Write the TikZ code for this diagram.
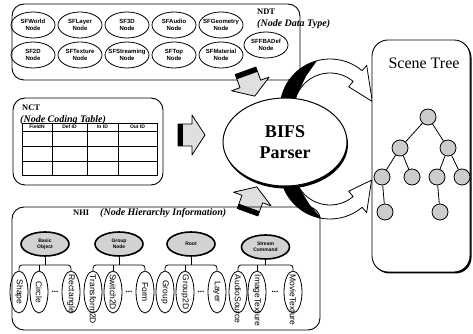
\documentclass[tikz,border=0pt]{standalone}
\usepackage{fontspec}
\setmainfont{Liberation Serif}
\setsansfont{Liberation Sans}
\usetikzlibrary{shapes,shapes.geometric,arrows,calc,positioning,shadows}

\begin{document}
\begin{tikzpicture}[%
x=1pt, y=1pt,
node distance=47pt,
on grid,
panel/.style={draw, line width=0.9pt, rounded corners=12pt, inner sep=0pt},
title/.style={font=\bfseries\fontsize{8.5}{10}\selectfont, inner sep=0pt, anchor=west},
subtitle/.style={font=\bfseries\itshape\fontsize{10}{12}\selectfont, inner sep=0pt, anchor=west},
sftext/.style={font=\sffamily\bfseries\fontsize{6}{6.6}\selectfont, align=center, inner sep=0pt},
sfnode/.style={ellipse, draw, line width=0.8pt, minimum width=44pt, minimum height=26pt, inner sep=0pt, label={[sftext]center:#1}},
cell/.style={font=\sffamily\bfseries\fontsize{5}{6}\selectfont, inner sep=0pt},
blockarrow/.style={draw, line width=0.8pt, fill=gray!25, line join=round},
parser/.style={ellipse, draw, line width=1pt, fill=white, minimum width=124pt, minimum height=88pt, align=center, font=\bfseries\fontsize{18}{21}\selectfont, drop shadow={fill=black, opacity=1, shadow xshift=1pt, shadow yshift=-2.5pt}},
ribbon/.style={draw, line width=0.8pt, fill=white, line join=round},
treenode/.style={circle, draw, line width=0.8pt, fill=gray!40, minimum size=16pt, inner sep=0pt},
groupnode/.style={ellipse, draw, line width=1.6pt, fill=gray!35, minimum width=48pt, minimum height=24pt, inner sep=0pt, align=center, font=\sffamily\bfseries\fontsize{5}{5.5}\selectfont},
leaftext/.style={rotate=-90, font=\sffamily\fontsize{8.5}{10}\selectfont, inner sep=0pt},
leaf/.style={ellipse, draw, line width=0.8pt, minimum width=18pt, minimum height=42pt, inner sep=0pt},
dotstext/.style={font=\bfseries\fontsize{9}{10}\selectfont, inner sep=0pt},
link/.style={line width=0.8pt, rounded corners=3pt}
]
\useasboundingbox (0,0) rectangle (473,334);

% node data types
\node[panel, minimum width=288pt, minimum height=76pt] (ndt) at (156,292) {};
\node[title] (ndtname) at (257,322) {NDT};
\node[subtitle] (ndtlong) at (257,310) {(Node Data Type)};
\node[sfnode={SFWorld\\Node}] (sfworld) at (33,309) {};
\node[sfnode={SFLayer\\Node}, right=of sfworld] (sflayer) {};
\node[sfnode={SF3D\\Node}, right=of sflayer] (sf3d) {};
\node[sfnode={SFAudio\\Node}, right=of sf3d] (sfaudio) {};
\node[sfnode={SFGeometry\\Node}, right=of sfaudio] (sfgeometry) {};
\node[sfnode={SF2D\\Node}, below=30pt of sfworld] (sf2d) {};
\node[sfnode={SFTexture\\Node}, right=of sf2d] (sftexture) {};
\node[sfnode={SFStreaming\\Node}, right=of sftexture] (sfstreaming) {};
\node[sfnode={SFTop\\Node}, right=of sfstreaming] (sftop) {};
\node[sfnode={SFMaterial\\Node}, right=of sftop] (sfmaterial) {};
\node[sfnode={SFFBADef\\Node}] (sffbadef) at (266,289) {};

% node coding table
\node[panel, minimum width=150pt, minimum height=87pt] (nct) at (88,192.5) {};
\node[title] (nctname) at (22,226) {NCT};
\node[subtitle] (nctlong) at (20,214) {(Node Coding Table)};
\draw[line width=0.7pt] (22,159) rectangle (157,211);
\foreach \y in {203,188,173} \draw[line width=0.7pt] (22,\y) -- (157,\y);
\foreach \x in {52,87,118} \draw[line width=0.7pt] (\x,159) -- (\x,211);
\node[cell] (fieldn) at (37,207) {FieldN};
\node[cell] (defid) at (69.5,207) {Def ID};
\node[cell] (inid) at (102.5,207) {In ID};
\node[cell] (outid) at (137.5,207) {Out ID};

% inputs to the parser
\foreach \px/\py/\ang in {191/199/0, 250/251/-70, 252/134/70}{
  \begin{scope}[shift={(\px,\py)}, rotate=\ang]
    \draw[blockarrow] (-13,-11) -- (1,-11) -- (1,-20) -- (14,0) -- (1,20) -- (1,11) -- (-13,11) -- cycle;
    \fill (-13,-11) rectangle (-8,11);
  \end{scope}
}

% output ribbons
\begin{scope}[shift={(330,225)}]
\draw[ribbon] (170:50) arc[start angle=170, end angle=50, radius=50] -- (50:57) -- (10:43) -- (50:29) -- (50:36) arc[start angle=50, end angle=170, radius=36] -- cycle;
\fill (170:50) arc[start angle=170, end angle=105, radius=50] -- (125:41) -- (150:36) arc[start angle=150, end angle=170, radius=36] -- cycle;
\end{scope}
\begin{scope}[shift={(330,165)}]
\draw[ribbon] (-170:50) arc[start angle=-170, end angle=-50, radius=50] -- (-50:57) -- (-15:43) -- (-50:29) -- (-50:36) arc[start angle=-50, end angle=-170, radius=36] -- cycle;
\fill (-170:50) arc[start angle=-170, end angle=-100, radius=50] -- (-120:41) -- (-150:36) arc[start angle=-150, end angle=-170, radius=36] -- cycle;
\end{scope}

\node[parser] (parser) at (285,192) {BIFS\\Parser};

% scene tree
\node[panel, rounded corners=16pt, fill=white, minimum width=98pt, minimum height=232pt, drop shadow={fill=black, opacity=1, shadow xshift=1.5pt, shadow yshift=-1.5pt}] (scene) at (421,178) {};
\node[font=\fontsize{16}{18}\selectfont, inner sep=0pt] (scenename) at (424,271) {Scene Tree};
\node[treenode] (t0) at (428,217) {};
\node[treenode] (t1) at (400,186) {};
\node[treenode] (t2) at (448,186) {};
\node[treenode] (t3) at (382,157) {};
\node[treenode] (t4) at (412,157) {};
\node[treenode] (t5) at (437,157) {};
\node[treenode] (t6) at (462,157) {};
\node[treenode] (t7) at (385,122) {};
\node[treenode] (t8) at (440,122) {};
\draw[line width=0.8pt] (t0) -- (t1);
\draw[line width=0.8pt] (t0) -- (t2);
\draw[line width=0.8pt] (t1) -- (t3);
\draw[line width=0.8pt] (t1) -- (t4);
\draw[line width=0.8pt] (t2) -- (t5);
\draw[line width=0.8pt] (t2) -- (t6);
\draw[line width=0.8pt] (t3) -- (t7);
\draw[line width=0.8pt] (t5) -- (t8);

% node hierarchy
\node[panel, minimum width=308pt, minimum height=123pt] (nhi) at (166,65.5) {};
\node[title] (nhiname) at (73,121) {NHI};
\node[subtitle] (nhilong) at (100,121) {(Node Hierarchy Information)};
\coordinate (bar) at (0,69);

\node[leaf] (shape) at (19,42) {};
\node[leaf, right=20pt of shape] (circle) {};
\node[leaf, right=32pt of circle] (rectangle) {};
\node[dotstext] (dotsa) at ($(circle)!0.5!(rectangle)$) {...};
\node[groupnode] (basic) at ($(shape)!0.5!(rectangle)+(0,48)$) {Basic\\Object};

\node[leaf] (transform) at (93,42) {};
\node[leaf, right=20pt of transform] (switch) {};
\node[leaf, right=32pt of switch] (form) {};
\node[dotstext] (dotsb) at ($(switch)!0.5!(form)$) {...};
\node[groupnode] (grouping) at ($(transform)!0.5!(form)+(0,48)$) {Group\\Node};

\node[leaf] (group) at (165,42) {};
\node[leaf, right=20pt of group] (group2d) {};
\node[leaf, right=32pt of group2d] (layer) {};
\node[dotstext] (dotsc) at ($(group2d)!0.5!(layer)$) {...};
\node[groupnode] (root) at ($(group)!0.5!(layer)+(0,48)$) {Root};

\node[leaf] (audio) at (238,42) {};
\node[leaf, right=19pt of audio] (image) {};
\node[leaf, right=36pt of image] (movie) {};
\node[dotstext] (dotsd) at ($(image)!0.5!(movie)$) {...};
\node[groupnode] (stream) at ($(audio)!0.5!(movie)+(0,45)$) {Stream\\Command};

% leaf names, written downwards
\node[leaftext] (shapename) at (shape) {Shape};
\node[leaftext] (circlename) at (circle) {Circle};
\node[leaftext, anchor=west] (rectanglename) at ($(rectangle.north)+(0,-4)$) {Rectangle};
\node[leaftext, anchor=west] (transformname) at ($(transform.north)+(0,-4)$) {Transform2D};
\node[leaftext] (switchname) at (switch) {Switch2D};
\node[leaftext] (formname) at (form) {Form};
\node[leaftext] (groupname) at (group) {Group};
\node[leaftext] (group2dname) at (group2d) {Group2D};
\node[leaftext] (layername) at (layer) {Layer};
\node[leaftext, anchor=west] (audioname) at ($(audio.north)+(0,-4)$) {AudioSource};
\node[leaftext, anchor=west] (imagename) at ($(image.north)+(0,-4)$) {ImageTexture};
\node[leaftext, anchor=west] (moviename) at ($(movie.north)+(0,-4)$) {MovieTexture};

\draw[link] (basic.south) -- (basic |- bar);
\draw[link] (shape.north) |- (rectangle |- bar) -- (rectangle.north);
\draw[link] (circle.north) -- (circle |- bar);
\draw[link] (grouping.south) -- (grouping |- bar);
\draw[link] (transform.north) |- (form |- bar) -- (form.north);
\draw[link] (switch.north) -- (switch |- bar);
\draw[link] (root.south) -- (root |- bar);
\draw[link] (group.north) |- (layer |- bar) -- (layer.north);
\draw[link] (group2d.north) -- (group2d |- bar);
\draw[link] (stream.south) -- (stream |- bar);
\draw[link] (audio.north) |- (movie |- bar) -- (movie.north);
\draw[link] (image.north) -- (image |- bar);
\end{tikzpicture}
\end{document}
